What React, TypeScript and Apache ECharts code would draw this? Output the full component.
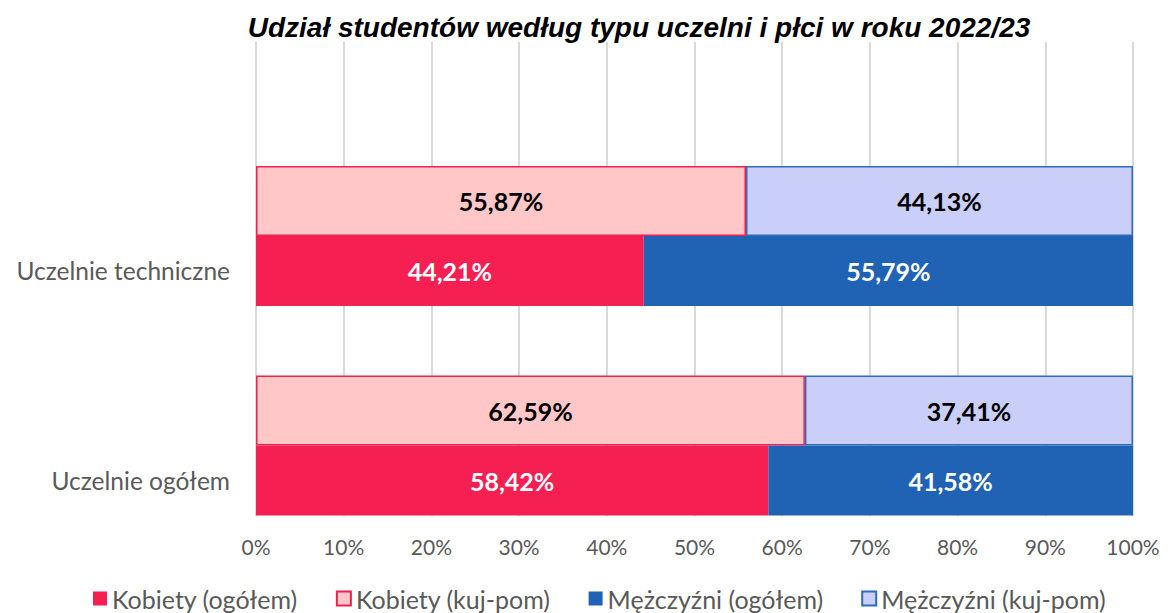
import React, { useEffect, useRef } from "react";
import * as echarts from "echarts";

const categories = ["Uczelnie ogółem", "Uczelnie techniczne"];
const kobietyOgolem = [58.42, 44.21];
const kobietyKujPom = [62.59, 55.87];
const mezczyzniOgolem = [41.58, 55.79];
const mezczyzniKujPom = [37.41, 44.13];
const seriesNames = ["Kobiety (ogółem)", "Kobiety (kuj-pom)", "Mężczyźni (ogółem)", "Mężczyźni (kuj-pom)"];
const xTicks = [0, 100, 10];
const title = "Udział studentów według typu uczelni i płci w roku 2022/23";

const FONT = "Lato, 'Open Sans', sans-serif";
const fmt = (v: number) => v.toFixed(2).replace(".", ",") + "%";

export default function App() {
  const ref = useRef<HTMLDivElement>(null);
  useEffect(() => {
    if (!ref.current) return;
    const chart = echarts.init(ref.current, undefined, { renderer: "svg" });
    const label = (color: string) => ({
      show: true,
      position: "inside",
      color,
      fontFamily: FONT,
      fontWeight: "bold",
      fontSize: 25,
      formatter: (p: any) => fmt(p.value),
    });
    chart.setOption({
      animation: false,
      title: {
        text: title,
        left: 634,
        textAlign: "center",
        top: 8,
        textStyle: {
          fontFamily: "'Liberation Sans', Arial, sans-serif",
          fontStyle: "italic",
          fontWeight: "bold",
          fontSize: 28,
          color: "#000",
        },
      },
      legend: {
        data: seriesNames,
        bottom: -3,
        left: 88,
        icon: "rect",
        itemWidth: 14,
        itemHeight: 14,
        itemGap: 38,
        textStyle: { fontFamily: FONT, fontSize: 25, color: "#595959" },
      },
      grid: [
        { left: 256, right: 35, top: 42, bottom: 97 },
        { left: 256, right: 35, top: 131.25, bottom: 62.75 },
        { left: 256, right: 35, top: 165.75, bottom: 28.25 },
      ],
      xAxis: [
        {
          gridIndex: 0,
          type: "value",
          min: xTicks[0],
          max: xTicks[1],
          interval: xTicks[2],
          axisLine: { show: false },
          axisTick: { show: false },
          axisLabel: {
            formatter: "{value}%",
            fontFamily: FONT,
            fontSize: 21,
            color: "#595959",
            margin: 20,
          },
          splitLine: { show: true, lineStyle: { color: "#D9D9D9", width: 2 } },
        },
        { gridIndex: 1, type: "value", min: 0, max: 100, show: false },
        { gridIndex: 2, type: "value", min: 0, max: 100, show: false },
      ],
      yAxis: [
        { gridIndex: 0, type: "value", show: false },
        { gridIndex: 1, type: "category", data: categories, show: false },
        {
          gridIndex: 2,
          type: "category",
          data: categories,
          axisLine: { show: false },
          axisTick: { show: false },
          splitLine: { show: false },
          axisLabel: { fontFamily: FONT, fontSize: 24.5, color: "#595959", margin: 26 },
        },
      ],
      series: [
        {
          name: seriesNames[1],
          type: "bar",
          xAxisIndex: 1,
          yAxisIndex: 1,
          stack: "kp",
          data: kobietyKujPom,
          barWidth: 70,
          barGap: "0%",
          itemStyle: { color: "#FFC7C8", borderColor: "#F0204F", borderWidth: 1.5 },
          label: label("#000"),
        },
        {
          name: seriesNames[3],
          type: "bar",
          xAxisIndex: 1,
          yAxisIndex: 1,
          stack: "kp",
          data: mezczyzniKujPom,
          barWidth: 70,
          barGap: "0%",
          itemStyle: { color: "#C9CFF9", borderColor: "#2F6BC0", borderWidth: 1.5 },
          label: label("#000"),
        },
        {
          name: seriesNames[0],
          type: "bar",
          xAxisIndex: 1,
          yAxisIndex: 1,
          stack: "og",
          data: kobietyOgolem,
          barWidth: 70,
          barGap: "0%",
          itemStyle: { color: "#F51F52" },
          label: label("#fff"),
        },
        {
          name: seriesNames[2],
          type: "bar",
          xAxisIndex: 1,
          yAxisIndex: 1,
          stack: "og",
          data: mezczyzniOgolem,
          barWidth: 70,
          barGap: "0%",
          itemStyle: { color: "#2062B4" },
          label: label("#fff"),
        },
      ],
    });
    return () => chart.dispose();
  }, []);
  return (
    <div
      ref={ref}
      style={{ position: "absolute", left: 0, top: 0, width: 1168, height: 613, background: "#fff" }}
    />
  );
}
